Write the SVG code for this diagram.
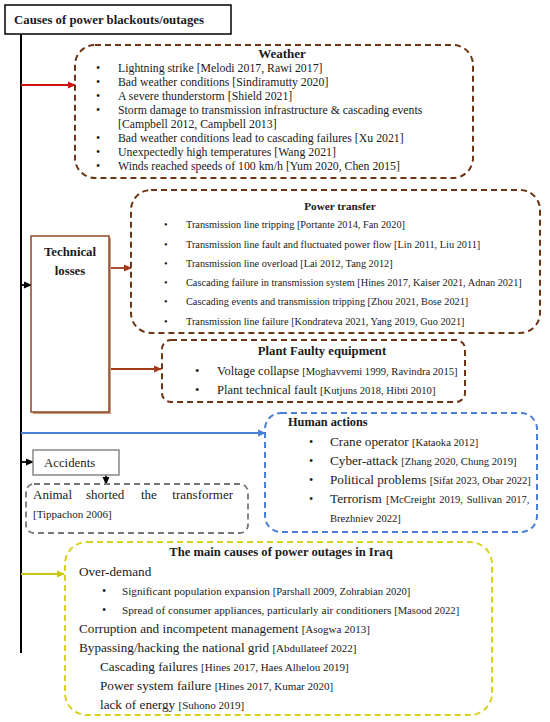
<svg xmlns="http://www.w3.org/2000/svg" width="550" height="722" viewBox="0 0 550 722">
<defs>
<style>
text{font-family:"Liberation Serif","Times New Roman",serif;fill:#1a1a1a}
.b{font-weight:bold}
.t{font-size:11.8px}
.s{font-size:10.3px}
.c{font-size:10px}
.brown{fill:none;stroke:#6e3515;stroke-width:2;stroke-dasharray:6,4}
.blue{fill:none;stroke:#4a7fd8;stroke-width:2;stroke-dasharray:6,4}
.yel{fill:none;stroke:#d8d21c;stroke-width:2;stroke-dasharray:6,4}
.gray{fill:none;stroke:#777;stroke-width:1.8;stroke-dasharray:6,4}
.h{font-size:12.5px}
.q{font-size:13.2px}
</style>
<marker id="aR" markerWidth="8" markerHeight="8" refX="7" refY="4" orient="auto" markerUnits="userSpaceOnUse"><path d="M0,0.5 L8,4 L0,7.5z" fill="#d41010"/></marker>
<marker id="aBr" markerWidth="8" markerHeight="8" refX="7" refY="4" orient="auto" markerUnits="userSpaceOnUse"><path d="M0,0.5 L8,4 L0,7.5z" fill="#a33a1a"/></marker>
<marker id="aK" markerWidth="8" markerHeight="8" refX="7" refY="4" orient="auto" markerUnits="userSpaceOnUse"><path d="M0,0.5 L8,4 L0,7.5z" fill="#000"/></marker>
<marker id="aB" markerWidth="8" markerHeight="8" refX="7" refY="4" orient="auto" markerUnits="userSpaceOnUse"><path d="M0,0.5 L8,4 L0,7.5z" fill="#4a7fd8"/></marker>
<marker id="aY" markerWidth="8" markerHeight="8" refX="7" refY="4" orient="auto" markerUnits="userSpaceOnUse"><path d="M0,0.5 L8,4 L0,7.5z" fill="#c8c812"/></marker>
</defs>
<rect width="550" height="722" fill="#fff"/>

<g id="connectors">
<line x1="21" y1="34" x2="21" y2="653" stroke="#000" stroke-width="2"/>
<line x1="21" y1="85" x2="75" y2="85" stroke="#d41010" stroke-width="1.8" marker-end="url(#aR)"/>
<line x1="21" y1="285" x2="31" y2="285" stroke="#000" stroke-width="1.8" marker-end="url(#aK)"/>
<line x1="109" y1="268" x2="131" y2="268" stroke="#a33a1a" stroke-width="1.8" marker-end="url(#aBr)"/>
<line x1="109" y1="369" x2="161" y2="369" stroke="#a33a1a" stroke-width="1.8" marker-end="url(#aBr)"/>
<line x1="21" y1="433" x2="265" y2="433" stroke="#4a7fd8" stroke-width="1.8" marker-end="url(#aB)"/>
<line x1="21" y1="462" x2="33" y2="462" stroke="#000" stroke-width="1.8" marker-end="url(#aK)"/>
<line x1="106" y1="475" x2="106" y2="484" stroke="#000" stroke-width="1.5" marker-end="url(#aK)"/>
<line x1="21" y1="574" x2="64" y2="574" stroke="#c8c812" stroke-width="1.8" marker-end="url(#aY)"/>
</g>

<g id="title">
<rect x="5" y="5" width="226" height="29" fill="#fff" stroke="#000" stroke-width="1.5"/>
<text x="14" y="24" class="b" font-size="12.8">Causes of power blackouts/outages</text>
</g>

<g id="weather">
<rect x="75" y="45" width="398" height="133" rx="20" class="brown"/>
<text x="282" y="58" class="b" font-size="13" text-anchor="middle">Weather</text>
<g class="t">
<text x="96" y="72">•</text><text x="118" y="72">Lightning strike [Melodi 2017, Rawi 2017]</text>
<text x="96" y="86">•</text><text x="118" y="86">Bad weather conditions [Sindiramutty 2020]</text>
<text x="96" y="100">•</text><text x="118" y="100">A severe thunderstorm [Shield 2021]</text>
<text x="96" y="114">•</text><text x="118" y="114">Storm damage to transmission infrastructure &amp; cascading events</text>
<text x="118" y="128">[Campbell 2012, Campbell 2013]</text>
<text x="96" y="142">•</text><text x="118" y="142">Bad weather conditions lead to cascading failures [Xu 2021]</text>
<text x="96" y="156">•</text><text x="118" y="156">Unexpectedly high temperatures [Wang 2021]</text>
<text x="96" y="170">•</text><text x="118" y="170">Winds reached speeds of 100 km/h [Yum 2020, Chen 2015]</text>
</g>
</g>

<g id="technical-losses">
<rect x="33" y="238" width="78" height="176" fill="#c99a86"/>
<rect x="31" y="236" width="78" height="176" fill="#fff" stroke="#8b4a22" stroke-width="1.5"/>
<text x="70" y="256" class="b" font-size="12.8" text-anchor="middle">Technical</text>
<text x="70" y="275" class="b" font-size="12.8" text-anchor="middle">losses</text>
</g>

<g id="power-transfer">
<rect x="131" y="190" width="409" height="143" rx="20" class="brown"/>
<text x="340" y="210" class="b" font-size="11.2" text-anchor="middle">Power transfer</text>
<g class="s">
<text x="164" y="228">•</text><text x="186" y="228">Transmission line tripping [Portante 2014, Fan 2020]</text>
<text x="164" y="248">•</text><text x="186" y="248">Transmission line fault and fluctuated power flow [Lin 2011, Liu 2011]</text>
<text x="164" y="267">•</text><text x="186" y="267">Transmission line overload [Lai 2012, Tang 2012]</text>
<text x="164" y="286">•</text><text x="186" y="286">Cascading failure in transmission system [Hines 2017, Kaiser 2021, Adnan 2021]</text>
<text x="164" y="305">•</text><text x="186" y="305">Cascading events and transmission tripping [Zhou 2021, Bose 2021]</text>
<text x="164" y="325">•</text><text x="186" y="325">Transmission line failure [Kondrateva 2021, Yang 2019, Guo 2021]</text>
</g>
</g>

<g id="plant-faulty">
<rect x="162" y="340" width="303" height="62" rx="9" class="brown"/>
<text x="322" y="355" class="b" font-size="12.7" text-anchor="middle">Plant Faulty equipment</text>
<text x="195" y="375" class="h">•</text><text x="217" y="375" class="h">Voltage collapse <tspan font-size="10.6">[Moghavvemi 1999, Ravindra 2015]</tspan></text>
<text x="195" y="394" class="h">•</text><text x="217" y="394" class="h">Plant technical fault <tspan font-size="10.6">[Kutjuns 2018, Hibti 2010]</tspan></text>
</g>

<g id="human-actions">
<rect x="265" y="413" width="272" height="119" rx="16" class="blue"/>
<text x="288" y="426" class="b" font-size="12.3">Human actions</text>
<g class="q">
<text x="309" y="446" font-size="12">•</text><text x="330" y="446">Crane operator <tspan font-size="10.6">[Kataoka 2012]</tspan></text>
<text x="309" y="465" font-size="12">•</text><text x="330" y="465">Cyber-attack <tspan font-size="10.6">[Zhang 2020, Chung 2019]</tspan></text>
<text x="309" y="484" font-size="12">•</text><text x="330" y="484">Political problems <tspan font-size="10.6">[Sifat 2023, Obar 2022]</tspan></text>
<text x="309" y="503" font-size="12">•</text><text x="330" y="503" word-spacing="1">Terrorism <tspan font-size="10.6">[McCreight 2019, Sullivan 2017,</tspan></text>
<text x="330" y="522" font-size="10.6">Brezhniev 2022]</text>
</g>
</g>

<g id="accidents">
<rect x="33" y="450" width="86" height="25" fill="#fff" stroke="#888" stroke-width="1.5"/>
<text x="44" y="467" font-size="12.8">Accidents</text>
</g>

<g id="animal">
<rect x="26" y="484" width="222" height="49" rx="8" class="gray"/>
<g font-size="13">
<text x="33" y="499">Animal</text>
<text x="86" y="499">shorted</text>
<text x="141" y="499">the</text>
<text x="233" y="499" text-anchor="end">transformer</text>
</g>
<text x="33" y="518" font-size="11">[Tippachon 2006]</text>
</g>

<g id="iraq">
<rect x="65" y="542" width="427" height="173" rx="22" class="yel"/>
<text x="281" y="556" class="b" font-size="12.6" text-anchor="middle">The main causes of power outages in Iraq</text>
<g font-size="13.2">
<text x="79" y="576">Over-demand</text>
<text x="102" y="595" font-size="12">•</text><text x="122" y="595" font-size="11.2">Significant population expansion <tspan font-size="10.6">[Parshall 2009, Zohrabian 2020]</tspan></text>
<text x="102" y="614" font-size="12">•</text><text x="122" y="614" font-size="11.2">Spread of consumer appliances, particularly air conditioners <tspan font-size="10.6">[Masood 2022]</tspan></text>
<text x="79" y="633">Corruption and incompetent management <tspan font-size="11">[Asogwa 2013]</tspan></text>
<text x="79" y="652">Bypassing/hacking the national grid <tspan font-size="11">[Abdullateef 2022]</tspan></text>
<text x="100" y="671">Cascading failures <tspan font-size="11">[Hines 2017, Haes Alhelou 2019]</tspan></text>
<text x="100" y="690">Power system failure <tspan font-size="11">[Hines 2017, Kumar 2020]</tspan></text>
<text x="100" y="709">lack of energy <tspan font-size="11">[Suhono 2019]</tspan></text>
</g>
</g>
</svg>
